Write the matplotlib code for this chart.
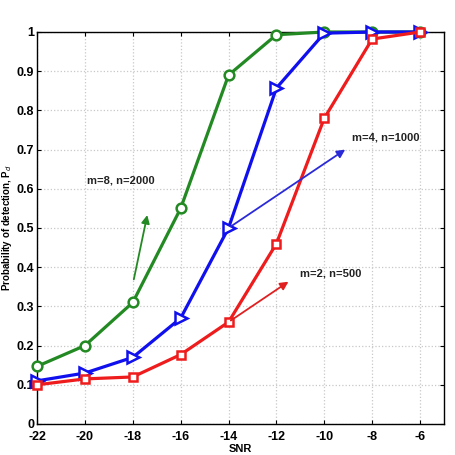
import numpy as np
import matplotlib as mpl
mpl.use("Agg")
import matplotlib.pyplot as plt

plt.rcParams['font.family'] = ['Liberation Sans', 'DejaVu Sans']

# data
snr = [-22, -20, -18, -16, -14, -12, -10, -8, -6]
pd_m8 = [0.147, 0.200, 0.310, 0.550, 0.890, 0.993, 1.000, 1.000, 1.000]
pd_m4 = [0.110, 0.130, 0.170, 0.270, 0.500, 0.857, 0.997, 1.000, 1.000]
pd_m2 = [0.100, 0.115, 0.120, 0.177, 0.260, 0.460, 0.780, 0.982, 1.000]
xticks = [-22, -20, -18, -16, -14, -12, -10, -8, -6]
yticks = [0, 0.1, 0.2, 0.3, 0.4, 0.5, 0.6, 0.7, 0.8, 0.9, 1]

fig = plt.figure(figsize=(4.55, 4.55), dpi=100)
ax = fig.add_axes([37/455, 31/455, 407/455, 392/455])

lw = 2.3
ax.plot(snr, pd_m8, color='#238a23', lw=lw, marker='o', ms=7,
        mfc='white', mec='#238a23', mew=1.8, zorder=3, clip_on=False)
ax.plot(snr, pd_m4, color='#1010ee', lw=lw, marker='>', ms=8,
        mfc='white', mec='#1010ee', mew=1.8, zorder=3, clip_on=False)
ax.plot(snr, pd_m2, color='#ee1c1c', lw=lw, marker='s', ms=6,
        mfc='white', mec='#ee1c1c', mew=1.8, zorder=3, clip_on=False)

fs = 8
# annotations
ax.annotate('', xy=(-17.37, 0.54), xytext=(-17.98, 0.362),
            arrowprops=dict(arrowstyle='-|>', color='#238a23', lw=1.3, mutation_scale=12))
ax.text(-18.5, 0.62, 'm=8, n=2000', fontsize=fs, ha='center', va='center',
        fontweight='bold', color='#222222')
ax.annotate('', xy=(-9.03, 0.704), xytext=(-14, 0.50),
            arrowprops=dict(arrowstyle='-|>', color='#2a2ad8', lw=1.3, mutation_scale=12))
ax.text(-7.44, 0.732, 'm=4, n=1000', fontsize=fs, ha='center', va='center',
        fontweight='bold', color='#222222')
ax.annotate('', xy=(-11.4, 0.367), xytext=(-14, 0.26),
            arrowprops=dict(arrowstyle='-|>', color='#e02020', lw=1.3, mutation_scale=12))
ax.text(-9.74, 0.383, 'm=2, n=500', fontsize=fs, ha='center', va='center',
        fontweight='bold', color='#222222')

ax.set_xlim(-22, -5)
ax.set_ylim(0, 1)
ax.set_xticks(xticks)
ax.set_yticks(yticks)
ax.set_xticklabels([str(t) for t in xticks])
ax.set_yticklabels(['0', '0.1', '0.2', '0.3', '0.4', '0.5', '0.6', '0.7', '0.8', '0.9', '1'])
ax.grid(True, linestyle=':', color='#c8c8c8', lw=0.9)
ax.tick_params(direction='in', length=3, labelsize=9)
ax.tick_params(axis='x', pad=5)
ax.tick_params(axis='y', pad=2)
for lab in ax.get_xticklabels() + ax.get_yticklabels():
    lab.set_fontweight('bold')
ax.tick_params(top=True, right=True)

ax.set_xlabel('SNR', fontsize=8, fontweight='bold', labelpad=1)
ax.set_ylabel('Probability of detection, P$_d$', fontsize=7, fontweight='bold', labelpad=2)

for s in ax.spines.values():
    s.set_linewidth(1.0)

fig.savefig('out.png', dpi=100)
